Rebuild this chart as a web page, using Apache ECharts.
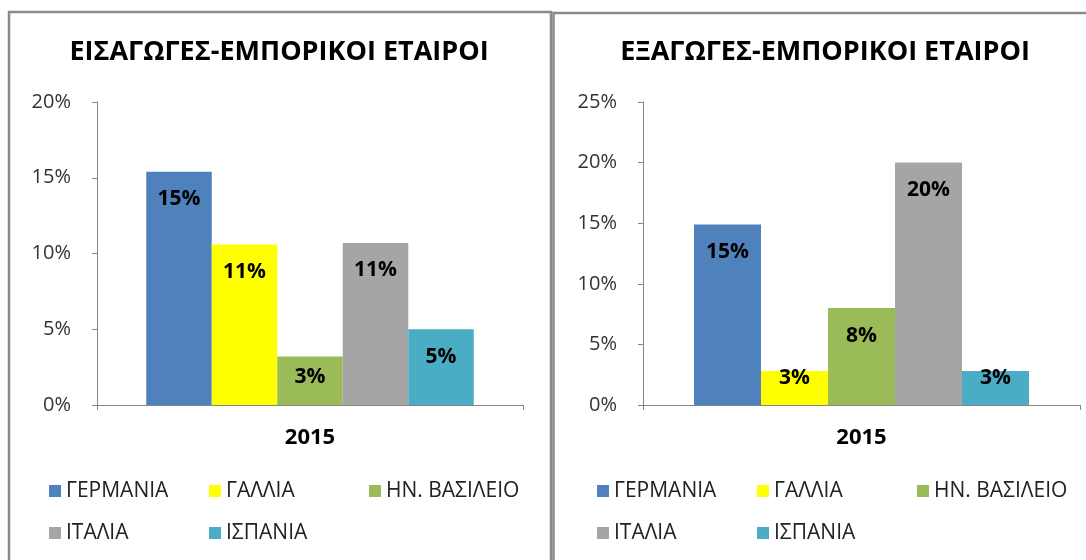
<!DOCTYPE html>
<html>
<head>
<meta charset="utf-8">
<script src="https://cdn.jsdelivr.net/npm/echarts@6/dist/echarts.min.js"></script>
<style>
html,body{margin:0;padding:0;background:#fff;}
#chart{width:1086px;height:560px;}
</style>
</head>
<body>
<div id="chart"></div>
<script>
// ---- data ----
const categories = ['2015'];
const countries = ['ΓΕΡΜΑΝΙΑ', 'ΓΑΛΛΙΑ', 'ΗΝ. ΒΑΣΙΛΕΙΟ', 'ΙΤΑΛΙΑ', 'ΙΣΠΑΝΙΑ'];
const importsTitle = 'ΕΙΣΑΓΩΓΕΣ-ΕΜΠΟΡΙΚΟΙ ΕΤΑΙΡΟΙ';
const exportsTitle = 'ΕΞΑΓΩΓΕΣ-ΕΜΠΟΡΙΚΟΙ ΕΤΑΙΡΟΙ';
const importsValues = [15.4, 10.6, 3.2, 10.7, 5.0];
const exportsValues = [14.9, 2.8, 8.0, 20.0, 2.8];
const importsTicks = [0, 5, 10, 15, 20];
const exportsTicks = [0, 5, 10, 15, 20, 25];

// ---- style ----
const colors = ['#4F81BD', '#FFFF00', '#9BBB59', '#A5A5A5', '#4BACC6'];
const FONT = '"Open Sans", "Noto Sans", sans-serif';
const plotH = 303;

const chart = echarts.init(document.getElementById('chart'), null, {renderer: 'canvas'});

function makeSeries(values, gridIdx, maxV) {
  return countries.map((name, i) => {
    const v = values[i];
    const px = v / maxV * plotH;
    const dist = Math.max(-4, Math.min(17, px - 38));
    return {
      name: name,
      type: 'bar',
      xAxisIndex: gridIdx,
      yAxisIndex: gridIdx,
      barGap: '0%',
      barWidth: gridIdx === 0 ? 65.5 : 67,
      itemStyle: {color: colors[i]},
      label: {
        show: true,
        position: 'insideTop',
        distance: dist,
        fontFamily: FONT,
        fontWeight: 'bold',
        fontSize: 21,
        lineHeight: 21,
        color: '#000',
        formatter: p => Math.round(p.value) + '%'
      },
      data: categories.map(() => v)
    };
  });
}

function yAxis(gridIdx, ticks) {
  return {
    type: 'value',
    gridIndex: gridIdx,
    min: ticks[0],
    max: ticks[ticks.length - 1],
    interval: ticks[1] - ticks[0],
    splitLine: {show: false},
    axisLine: {show: true, lineStyle: {color: '#868686', width: 1}},
    axisTick: {show: true, length: 5, lineStyle: {color: '#868686'}},
    axisLabel: {
      formatter: '{value}%',
      fontFamily: FONT,
      fontSize: 20,
      color: '#333',
      margin: 26
    }
  };
}

function xAxis(gridIdx) {
  return {
    type: 'category',
    gridIndex: gridIdx,
    data: categories,
    axisLine: {show: true, lineStyle: {color: '#868686', width: 1}},
    axisTick: {show: true, length: 5, lineStyle: {color: '#868686'}},
    axisLabel: {
      fontFamily: FONT,
      fontSize: 22,
      fontWeight: 'bold',
      color: '#000',
      margin: 22
    }
  };
}

function legend(left) {
  return {
    data: countries,
    left: left,
    top: 476,
    width: 480,
    padding: 0,
    itemGap: 12,
    itemWidth: 12,
    itemHeight: 12,
    icon: 'rect',
    selectedMode: false,
    textStyle: {
      fontFamily: FONT,
      fontSize: 21,
      color: '#222',
      width: 131,
      lineHeight: 30
    }
  };
}

const option = {
  animation: false,
  backgroundColor: '#fff',
  title: [
    {text: importsTitle, left: 279, top: 39, textAlign: 'center', padding: 0,
     textStyle: {fontFamily: FONT, fontSize: 27, fontWeight: 'bold', color: '#000'}},
    {text: exportsTitle, left: 825, top: 39, textAlign: 'center', padding: 0,
     textStyle: {fontFamily: FONT, fontSize: 27, fontWeight: 'bold', color: '#000'}}
  ],
  grid: [
    {left: 97, top: 102, width: 426, height: plotH, containLabel: false},
    {left: 643, top: 102, width: 437, height: plotH, containLabel: false}
  ],
  xAxis: [xAxis(0), xAxis(1)],
  yAxis: [yAxis(0, importsTicks), yAxis(1, exportsTicks)],
  legend: [legend(49), legend(597)],
  series: [].concat(makeSeries(importsValues, 0, 20), makeSeries(exportsValues, 1, 25)),
  graphic: [
    {type: 'rect', shape: {x: 9, y: 12, width: 542, height: 600},
     style: {fill: 'none', stroke: '#8a8a8a', lineWidth: 2.5}, silent: true},
    {type: 'rect', shape: {x: 553.5, y: 13, width: 600, height: 600},
     style: {fill: 'none', stroke: '#8a8a8a', lineWidth: 2.5}, silent: true}
  ]
};
chart.setOption(option);
</script>
</body>
</html>
